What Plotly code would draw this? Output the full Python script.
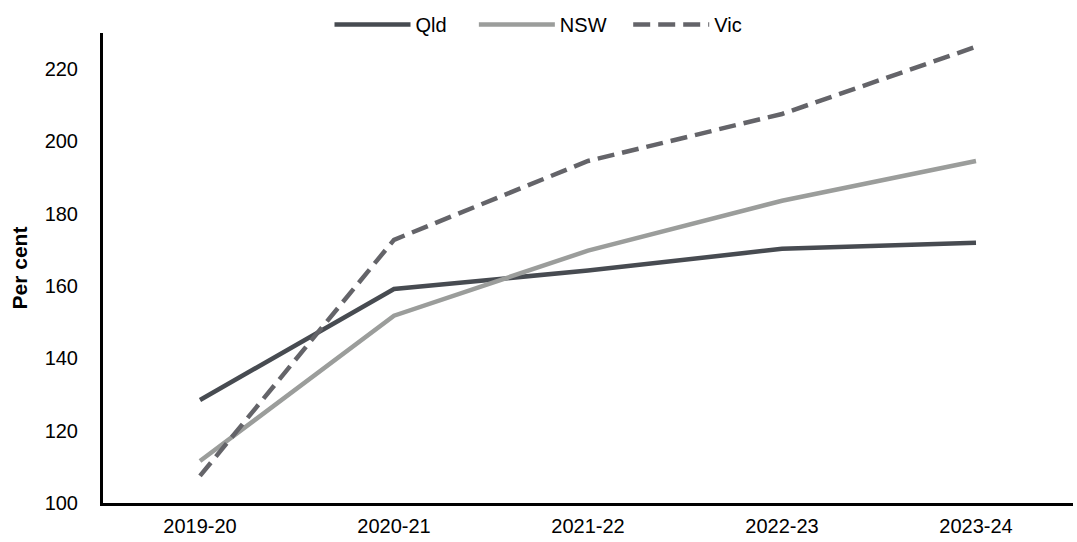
import plotly.graph_objects as go

years = ["2019-20", "2020-21", "2021-22", "2022-23", "2023-24"]
qld = [128.5, 159.2, 164.3, 170.3, 172.0]
nsw = [111.6, 151.8, 169.8, 183.6, 194.6]
vic = [107.5, 172.8, 194.6, 207.6, 226.2]

NB = "\u00a0"
fig = go.Figure()
fig.add_trace(go.Scatter(x=years, y=qld, name="Qld" + NB * 4, mode="lines",
                         line=dict(color="#474B51", width=4.5)))
fig.add_trace(go.Scatter(x=years, y=nsw, name="NSW" + NB * 3, mode="lines",
                         line=dict(color="#9B9D9B", width=4.5)))
fig.add_trace(go.Scatter(x=years, y=vic, name="Vic", mode="lines",
                         line=dict(color="#646469", width=4.5, dash="17px,8px")))

fig.update_layout(
    width=1077, height=542,
    margin=dict(l=103, r=4, t=33, b=39),
    paper_bgcolor="white", plot_bgcolor="white",
    font=dict(family="Liberation Sans, Arial, sans-serif", size=20, color="black"),
    showlegend=True,
    legend=dict(orientation="h", xref="paper", yref="paper",
                x=(538.5 - 103) / 970, xanchor="center", y=1 + 28 / 470, yanchor="top",
                itemwidth=76, font=dict(size=20), bgcolor="rgba(0,0,0,0)",
                tracegroupgap=0),
    xaxis=dict(type="category", range=[-0.5, 4.5], showline=True, linecolor="black",
               linewidth=3, showgrid=False, ticks="", zeroline=False,
               tickfont=dict(size=20), ticklabelstandoff=3, tickangle=0,
               automargin=False),
    yaxis=dict(range=[100, 230], tickvals=[100, 120, 140, 160, 180, 200, 220],
               showline=True, linecolor="black", linewidth=3, showgrid=False,
               ticks="", zeroline=False, tickfont=dict(size=20),
               ticklabelstandoff=18, automargin=False,
               title=dict(text="<b>Per cent</b>", font=dict(size=21), standoff=12)),
)

fig.write_html("out.html")
